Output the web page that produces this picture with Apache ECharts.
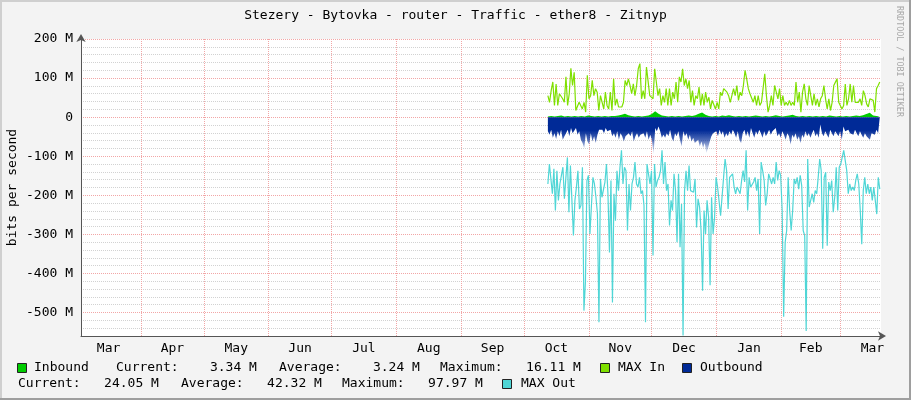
<!DOCTYPE html>
<html><head><meta charset="utf-8">
<script src="https://cdn.jsdelivr.net/npm/echarts@6/dist/echarts.min.js"></script>
<style>html,body{margin:0;padding:0;background:#F3F3F3}#c{width:911px;height:400px}</style>
</head><body><div id="c"></div>
<script>
// ---- data (values in Mbit/s) ----
const monthNames = ['Jan','Feb','Mar','Apr','May','Jun','Jul','Aug','Sep','Oct','Nov','Dec'];
const yTickValues = [-500,-400,-300,-200,-100,0,100,200];
// Inbound (average) traffic
const inbound = [2,3,2,3,4,2,3,2,3,2, 3,2,4,3,2,3,2,3,2,3, 3,4,6,9,5,3,2,3,2,3, 4,8,15,9,4,3,2,3,2,3,
  2,3,4,3,5,9,12,6,3,2, 3,2,4,3,5,3,2,3,2,3, 2,3,4,3,2,3,2,3,5,3, 2,3,4,6,3,2,3,2,3,2,
  3,2,3,2,4,3,2,3,2,3, 2,3,4,3,5,8,11,4,3,2];
// MAX In
const maxIn = [55,38,68,90,30,85,30,60,60,47, 38,103,30,60,125,81,115,17,21,38, 38,21,38,13,107,47,55,94,55,73,
  64,17,55,55,21,64,30,21,64,17, 98,30,47,26,30,26,38,94,81,98, 81,60,85,55,81,124,137,47,68,47,
  128,128,55,55,47,124,90,55,73,30, 55,38,73,30,73,30,64,47,90,38, 103,90,124,81,98,73,94,38,68,30,
  55,47,77,30,60,30,64,38,51,21, 43,38,
  21,38,21,64,55,73,68,64,55,38, 38,73,55,81,43,64,55,81,120,98, 73,60,64,38,55,30,55,30,38,43,
  111,55,13,30,55,30,81,64,47,73, 30,55,30,38,30,43,30,38,30,90, 38,64,13,64,85,47,30,81,55,30,
  60,30,47,26,47,55,81,47,21,47, 17,38,81,77,98,38,38,21,30,85, 30,47,85,38,81,38,43,38,47,30,
  68,55,34,26,47,47,43,13,73,81, 90];
// Outbound (average) traffic, magnitude
const outbound = [36,45,32,53,41,56,36,49,32,58, 49,41,32,49,28,41,36,28,45,36, 58,66,79,41,62,70,41,62,49,66,
  45,32,36,32,41,28,36,41,32,49, 41,53,36,58,41,49,62,49,53,41, 49,36,62,49,41,53,45,49,41,53,
  36,58,45,58,96,28,36,24,36,53, 45,53,41,49,32,53,62,41,49,36, 58,75,36,49,41,58,45,62,53,66,
  70,58,75,62,79,66,92,79,62,49, 41,36,
  36,49,32,45,36,53,41,49,36, 45,32,41,53,36,58,66,41,32,49, 36,53,28,41,53,36,45,32,41,53,
  36,49,41,32,45,36,41,28,49,41, 53,36,45,58,41,49,70,45,53,41, 58,49,66,45,53,36,49,41,53,41,
  32,49,41,53,19,41,49,36,45,53, 32,41,49,36,41,49,36,58,24,36, 41,32,41,36,45,32,41,49,36,45,
  53,41,49,45,58,41,36,45,32,41, 36];
// MAX Out, magnitude
const maxOut = [171,120,124,196,132,239,137,213,171,166, 128,209,154,103,243,124,213,303,213,179,
  137,235,226,128,495,422,162,149,299,299, 154,171,205,247,525,158,205,201,166,120,
  196,346,162,474,196,265,137,188,128,85, 171,128,137,290,171,239,171,154,115,171,
  179,154,196,188,226,525,120,115,171,137, 354,120,179,162,154,137,85,171,115,188,
  171,277,213,239,145,188,320,145,333,222, 559,188,137,188,124,188,184,192,158,282,
  209,230,290,444,239,299,213,256,430,205, 299,256,154,179,
  179,252,248,154,107,137,235,154,149,145, 179,196,179,179,196,162,137,166,85,239,
  154,179,175,166,154,188,158,299,115,137, 162,226,196,145,141,171,154,171,115,162,
  137,149,239,511,320,290,154,239,290,239, 158,171,154,184,149,175,290,303,547,107,
  230,213,196,218,188,196,154,107,137,337, 154,141,329,166,188,162,243,205,128,239,
  128,120,115,85,80,137,196,171,188,179, 188,162,145,171,239,325,188,154,196,171,
  196,179,213,179,213,248,154,184];
const legendLine1 = ['Current:    3.34 M', 'Average:    3.24 M', 'Maximum:   16.11 M'];
const legendLine2 = ['Current:   24.05 M', 'Average:   42.32 M', 'Maximum:   97.97 M'];
const titleText = 'Stezery - Bytovka - router - Traffic - ether8 - Zitnyp';

// ---- time frame (ms timestamps on a numeric axis) ----
const axisStart = Date.UTC(2018, 2, 3, 8);
const axisEnd = Date.UTC(2019, 2, 20, 14);
const dataStart = Date.UTC(2018, 9, 12, 10);
const dataEnd = Date.UTC(2019, 2, 20, 0);
const monthStarts = [];
for (let m = 3; m <= 14; m++) monthStarts.push(Date.UTC(2018, m, 1));
const monthMids = [];
for (let m = 2; m <= 14; m++) monthMids.push((Date.UTC(2018, m, 1) + Date.UTC(2018, m + 1, 1)) / 2);

function toSeries(arr, sign) {
  const n = arr.length;
  return arr.map((v, i) => [dataStart + (dataEnd - dataStart) * i / (n - 1), sign * v]);
}

const FONT = '"DejaVu Sans Mono", monospace';
const chart = echarts.init(document.getElementById('c'), null, {renderer: 'canvas'});
const gray = '#D2D2D2', red = '#F2A6A6';

const legendText = (x, y, t) => ({type: 'text', x, y, style: {text: t, font: '13px ' + FONT, fill: '#000', verticalAlign: 'middle', align: 'left'}});
const legendBox = (x, y, c) => ({type: 'rect', shape: {x: x + 0.5, y: y - 4.5, width: 9, height: 9}, style: {fill: c, stroke: '#222', lineWidth: 1}});

chart.setOption({
  animation: false,
  backgroundColor: '#F3F3F3',
  title: {text: titleText, left: 'center', top: 4, textStyle: {fontFamily: FONT, fontSize: 13, fontWeight: 'normal', color: '#000'}},
  grid: {left: 81, right: 30, top: 39, bottom: 64, outerBoundsMode: 'none', containLabel: false,
    backgroundColor: '#FFFFFF', show: true, borderWidth: 0},
  xAxis: {
    type: 'value', min: axisStart, max: axisEnd,
    axisLine: {show: true, onZero: false, symbol: ['none', 'arrow'], symbolSize: [7, 8], symbolOffset: [0, 5], lineStyle: {color: '#555', width: 1}},
    axisTick: {show: false, customValues: monthStarts},
    splitLine: {show: true, lineStyle: {color: red, type: 'dotted', width: 1}},
    axisLabel: {customValues: monthMids, margin: 6, fontFamily: FONT, fontSize: 13, color: '#000',
      formatter: v => monthNames[new Date(v).getUTCMonth()]}
  },
  yAxis: {
    type: 'value', min: -560, max: 200, interval: 20,
    name: 'bits per second', nameLocation: 'middle', nameRotate: 90, nameGap: 62, nameMoveOverlap: false,
    nameTextStyle: {fontFamily: FONT, fontSize: 13, color: '#000'},
    axisLine: {show: true, onZero: false, symbol: ['none', 'arrow'], symbolSize: [7, 8], symbolOffset: [0, 5], lineStyle: {color: '#555', width: 1}},
    axisTick: {show: false},
    splitLine: {show: true, lineStyle: {color: [gray, gray, gray, red, gray], type: 'dotted', width: 1}},
    axisLabel: {customValues: yTickValues, margin: 8, fontFamily: FONT, fontSize: 13, color: '#000',
      formatter: v => v === 0 ? '0' : v + ' M'}
  },
  series: [
    {name: 'Inbound', type: 'line', data: toSeries(inbound, 1), showSymbol: false, symbol: 'none',
      lineStyle: {width: 0}, areaStyle: {color: '#00CC00', opacity: 1}, z: 2},
    {name: 'MAX In', type: 'line', data: toSeries(maxIn, 1), showSymbol: false, symbol: 'none',
      lineStyle: {width: 1.2, color: '#7FE000'}, z: 3},
    {name: 'Outbound', type: 'line', data: toSeries(outbound, -1), showSymbol: false, symbol: 'none',
      lineStyle: {width: 0},
      areaStyle: {opacity: 1, color: {type: 'linear', x: 0, y: 0, x2: 0, y2: 1, colorStops: [
        {offset: 0, color: '#002A97'}, {offset: 0.35, color: '#002A97'},
        {offset: 0.6, color: 'rgba(0,42,151,0.7)'}, {offset: 0.85, color: 'rgba(0,42,151,0.25)'},
        {offset: 1, color: 'rgba(0,42,151,0.05)'}]}}, z: 4},
    {name: 'MAX Out', type: 'line', data: toSeries(maxOut, -1), showSymbol: false, symbol: 'none',
      lineStyle: {width: 1.2, color: '#4FD6D6'}, z: 5}
  ],
  graphic: [
    {type: 'rect', shape: {x: 0, y: 0, width: 911, height: 2}, style: {fill: '#CFCFCF'}, silent: true},
    {type: 'rect', shape: {x: 0, y: 0, width: 2, height: 400}, style: {fill: '#CFCFCF'}, silent: true},
    {type: 'rect', shape: {x: 909, y: 0, width: 2, height: 400}, style: {fill: '#9E9E9E'}, silent: true},
    {type: 'rect', shape: {x: 0, y: 398, width: 911, height: 2}, style: {fill: '#9E9E9E'}, silent: true},
    {type: 'text', x: 899, y: 6, rotation: -Math.PI / 2, style: {text: 'RRDTOOL / TOBI OETIKER', font: '8.4px ' + FONT, fill: '#A8A8A8', align: 'left', verticalAlign: 'middle'}},
    legendBox(17, 368, '#00CC00'), legendText(34, 368, 'Inbound'),
    legendText(116, 368, legendLine1[0]), legendText(279, 368, legendLine1[1]), legendText(440, 368, legendLine1[2]),
    legendBox(600, 368, '#7FE000'), legendText(618, 368, 'MAX In'),
    legendBox(682, 368, '#002A97'), legendText(700, 368, 'Outbound'),
    legendText(18, 384, legendLine2[0]), legendText(181, 384, legendLine2[1]), legendText(342, 384, legendLine2[2]),
    legendBox(502, 384, '#4FD6D6'), legendText(521, 384, 'MAX Out')
  ]
});
</script></body></html>
